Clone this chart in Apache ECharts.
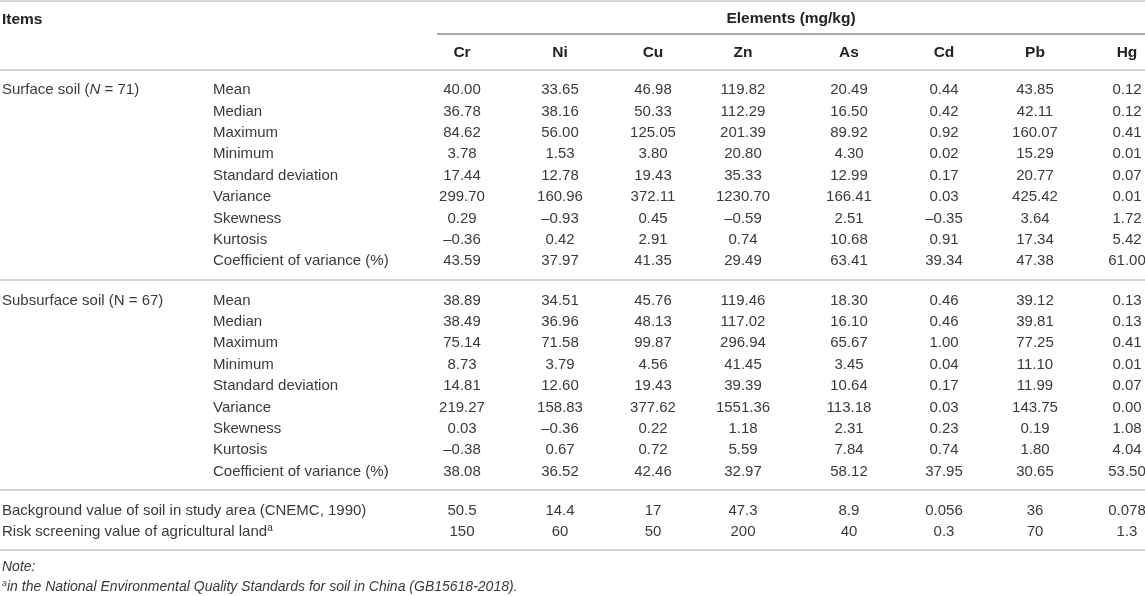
<!DOCTYPE html>
<html>
<head>
<meta charset="utf-8">
<title>Soil heavy metal statistics</title>
<script src="https://cdn.jsdelivr.net/npm/echarts@6/dist/echarts.min.js"></script>
<style>
  html, body { margin: 0; padding: 0; background: #fff; }
  #main { width: 1145px; height: 596px; }
</style>
</head>
<body>
<div id="main"></div>
<script>
// ---- data ----
var elements = ['Cr', 'Ni', 'Cu', 'Zn', 'As', 'Cd', 'Pb', 'Hg'];
var statNames = ['Mean', 'Median', 'Maximum', 'Minimum', 'Standard deviation',
  'Variance', 'Skewness', 'Kurtosis', 'Coefficient of variance (%)'];

var surfaceValues = [
  [40.00, 33.65, 46.98, 119.82, 20.49, 0.44, 43.85, 0.12],
  [36.78, 38.16, 50.33, 112.29, 16.50, 0.42, 42.11, 0.12],
  [84.62, 56.00, 125.05, 201.39, 89.92, 0.92, 160.07, 0.41],
  [3.78, 1.53, 3.80, 20.80, 4.30, 0.02, 15.29, 0.01],
  [17.44, 12.78, 19.43, 35.33, 12.99, 0.17, 20.77, 0.07],
  [299.70, 160.96, 372.11, 1230.70, 166.41, 0.03, 425.42, 0.01],
  [0.29, -0.93, 0.45, -0.59, 2.51, -0.35, 3.64, 1.72],
  [-0.36, 0.42, 2.91, 0.74, 10.68, 0.91, 17.34, 5.42],
  [43.59, 37.97, 41.35, 29.49, 63.41, 39.34, 47.38, 61.00]
];
var subsurfaceValues = [
  [38.89, 34.51, 45.76, 119.46, 18.30, 0.46, 39.12, 0.13],
  [38.49, 36.96, 48.13, 117.02, 16.10, 0.46, 39.81, 0.13],
  [75.14, 71.58, 99.87, 296.94, 65.67, 1.00, 77.25, 0.41],
  [8.73, 3.79, 4.56, 41.45, 3.45, 0.04, 11.10, 0.01],
  [14.81, 12.60, 19.43, 39.39, 10.64, 0.17, 11.99, 0.07],
  [219.27, 158.83, 377.62, 1551.36, 113.18, 0.03, 143.75, 0.00],
  [0.03, -0.36, 0.22, 1.18, 2.31, 0.23, 0.19, 1.08],
  [-0.38, 0.67, 0.72, 5.59, 7.84, 0.74, 1.80, 4.04],
  [38.08, 36.52, 42.46, 32.97, 58.12, 37.95, 30.65, 53.50]
];
var backgroundValues = ['50.5', '14.4', '17', '47.3', '8.9', '0.056', '36', '0.078'];
var riskValues = ['150', '60', '50', '200', '40', '0.3', '70', '1.3'];

// ---- layout (pixel space of the hidden axes) ----
var W = 1145, H = 596;
var colX = [462, 560, 653, 743, 849, 944, 1035, 1127];
var groupX = 2, statX = 213;
var rowStep = 21.4;
var surfaceTop = 90, subsurfaceTop = 300.5;
var bgY = 511, riskY = 532, noteY = 567, footY = 587;

var FONT = "'Liberation Sans', Arial, Helvetica, sans-serif";
var TEXT = '#3a3a3a';
var SIZE = 15, BOLD_SIZE = 15.5, NOTE_SIZE = 14;

function fmt(v) {
  return v.toFixed(2).replace('-', '\u2013');
}

// build cell list
var cells = [];
function cell(x, y, text, opt) {
  cells.push(Object.assign({ x: x, y: y, text: text, align: 'left', bold: false }, opt || {}));
}

cell(groupX, 20, 'Items', { bold: true });
cell((437 + W) / 2, 19, 'Elements (mg/kg)', { bold: true, align: 'center' });
elements.forEach(function (e, i) { cell(colX[i], 53, e, { bold: true, align: 'center' }); });

function block(top, label, values) {
  cell(groupX, top, label);
  statNames.forEach(function (s, r) {
    var y = top + r * rowStep;
    cell(statX, y, s);
    values[r].forEach(function (v, c) { cell(colX[c], y, fmt(v), { align: 'center' }); });
  });
}
block(surfaceTop, '{r|Surface soil (}{i|N}{r| = 71)}', surfaceValues);
block(subsurfaceTop, '{r|Subsurface soil (N = 67)}', subsurfaceValues);

cell(groupX, bgY, 'Background value of soil in study area (CNEMC, 1990)');
backgroundValues.forEach(function (v, c) { cell(colX[c], bgY, v, { align: 'center' }); });
cell(groupX, riskY, '{r|Risk screening value of agricultural land}{sup|a}');
riskValues.forEach(function (v, c) { cell(colX[c], riskY, v, { align: 'center' }); });

cell(groupX, noteY, '{ni|Note:}');
cell(groupX, footY, '{supi|a}{ni|in the National Environmental Quality Standards for soil in China (GB15618-2018).}');

// horizontal rules: [x1, x2, y, color, width]
var rules = [
  [0, W, 1, '#d4d4d4', 2],
  [437, W, 34, '#555', 1],
  [0, W, 70, '#d4d4d4', 2],
  [0, W, 280, '#d4d4d4', 2],
  [0, W, 490, '#d4d4d4', 2],
  [0, W, 550, '#d4d4d4', 2]
];

var rich = {
  r: { fontSize: SIZE, fontFamily: FONT, color: TEXT, lineHeight: 17 },
  i: { fontSize: SIZE, fontFamily: FONT, color: TEXT, fontStyle: 'italic', lineHeight: 17 },
  ni: { fontSize: NOTE_SIZE, fontFamily: FONT, color: TEXT, fontStyle: 'italic', lineHeight: 16 },
  sup: { fontSize: 10, fontFamily: FONT, color: TEXT, lineHeight: 10, verticalAlign: 'top' },
  supi: { fontSize: 9, fontFamily: FONT, color: TEXT, fontStyle: 'italic', lineHeight: 9, verticalAlign: 'top' }
};

var chart = echarts.init(document.getElementById('main'));
var option = {
  backgroundColor: '#fff',
  animation: false,
  grid: { left: 0, right: 0, top: 0, bottom: 0 },
  xAxis: { type: 'value', min: 0, max: W, show: false },
  yAxis: { type: 'value', min: 0, max: H, inverse: true, show: false },
  series: [
    {
      type: 'custom',
      clip: false,
      silent: true,
      data: rules.map(function (r) { return [r[0], r[2], r[1]]; }),
      renderItem: function (params, api) {
        var r = rules[params.dataIndex];
        var a = api.coord([r[0], r[2]]);
        var b = api.coord([r[1], r[2]]);
        return {
          type: 'line',
          shape: { x1: a[0], y1: a[1], x2: b[0], y2: b[1] },
          style: { stroke: r[3], lineWidth: r[4] }
        };
      }
    },
    {
      type: 'custom',
      clip: false,
      silent: true,
      data: cells.map(function (c) { return [c.x, c.y]; }),
      renderItem: function (params, api) {
        var c = cells[params.dataIndex];
        var p = api.coord([c.x, c.y]);
        return {
          type: 'text',
          x: p[0],
          y: p[1],
          style: {
            text: c.text,
            fill: c.bold ? '#222' : TEXT,
            fontSize: c.bold ? BOLD_SIZE : SIZE,
            fontFamily: FONT,
            fontWeight: c.bold ? 'bold' : 'normal',
            align: c.align,
            verticalAlign: 'middle',
            rich: rich
          }
        };
      }
    }
  ]
};
chart.setOption(option);
</script>
</body>
</html>
